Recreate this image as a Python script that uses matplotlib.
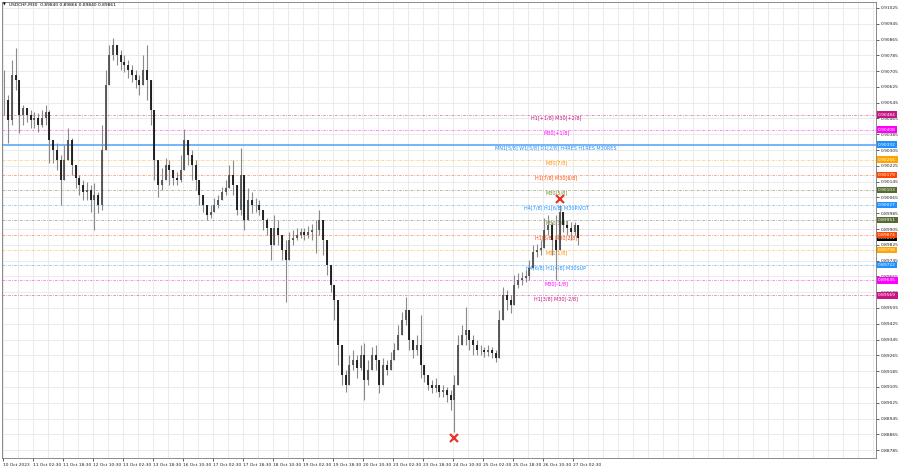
import numpy as np
import matplotlib
matplotlib.use("Agg")
import matplotlib.pyplot as plt
from matplotlib.collections import LineCollection

# ---------------- data ----------------
symbol_title = "USDCHF,M30  0.89840 0.89866 0.89840 0.89861"
current_price = 0.89861

closes = [
    0.90558, 0.90457, 0.90685, 0.90659, 0.90482, 0.90517, 0.90482, 0.90457, 0.90467, 0.90431,
    0.90467, 0.90497, 0.90355, 0.90305, 0.90254, 0.90152, 0.90254, 0.90355, 0.90228, 0.90163,
    0.90127, 0.90092, 0.90102, 0.90051, 0.90076, 0.90026, 0.90305, 0.90634, 0.90786, 0.90837,
    0.90786, 0.90751, 0.90735, 0.90710, 0.90685, 0.90659, 0.90634, 0.90710, 0.90659, 0.90507,
    0.90254, 0.90127, 0.90152, 0.90228, 0.90203, 0.90163, 0.90152, 0.90203, 0.90355, 0.90279,
    0.90228, 0.90152, 0.90076, 0.90026, 0.89975, 0.89990, 0.90026, 0.90051, 0.90092, 0.90112,
    0.90178, 0.90127, 0.90000, 0.90178, 0.89950, 0.90051, 0.90026, 0.90026, 0.90000, 0.89950,
    0.89909, 0.89823, 0.89909, 0.89874, 0.89798, 0.89747, 0.89848, 0.89858, 0.89874, 0.89889,
    0.89874, 0.89889, 0.89899, 0.89899, 0.89950, 0.89848, 0.89721, 0.89620, 0.89544, 0.89316,
    0.89164, 0.89113, 0.89215, 0.89240, 0.89199, 0.89265, 0.89139, 0.89189, 0.89265, 0.89240,
    0.89113, 0.89215, 0.89189, 0.89240, 0.89291, 0.89367, 0.89443, 0.89493, 0.89341, 0.89291,
    0.89316, 0.89215, 0.89164, 0.89113, 0.89098, 0.89113, 0.89078, 0.89088, 0.89062, 0.89037,
    0.89113, 0.89316, 0.89367, 0.89392, 0.89341, 0.89316, 0.89291, 0.89291, 0.89281, 0.89291,
    0.89275, 0.89250, 0.89443, 0.89569, 0.89544, 0.89519, 0.89620, 0.89645, 0.89656, 0.89666,
    0.89706, 0.89787, 0.89798, 0.89808, 0.89899, 0.89924, 0.89848, 0.89798, 0.89990, 0.89924,
    0.89909, 0.89889, 0.89924, 0.89861,
]

highs = [
    0.90710, 0.90583, 0.90761, 0.90822, 0.90659, 0.90533, 0.90517, 0.90507, 0.90497, 0.90492,
    0.90507, 0.90533, 0.90507, 0.90355, 0.90340, 0.90279, 0.90330, 0.90416, 0.90365, 0.90228,
    0.90178, 0.90152, 0.90142, 0.90127, 0.90137, 0.90092, 0.90431, 0.90710, 0.90837, 0.90872,
    0.90837, 0.90812, 0.90786, 0.90761, 0.90735, 0.90710, 0.90685, 0.90786, 0.90837, 0.90609,
    0.90431, 0.90203, 0.90213, 0.90264, 0.90254, 0.90203, 0.90193, 0.90279, 0.90411, 0.90355,
    0.90305, 0.90254, 0.90127, 0.90076, 0.90010, 0.90026, 0.90061, 0.90076, 0.90117, 0.90152,
    0.90228, 0.90254, 0.90102, 0.90315, 0.90026, 0.90112, 0.90092, 0.90061, 0.90051, 0.89990,
    0.89960, 0.89889, 0.89975, 0.89950, 0.89848, 0.89848, 0.89889, 0.89899, 0.89909, 0.89909,
    0.89909, 0.89919, 0.89929, 0.89950, 0.90000, 0.89899, 0.89798, 0.89706, 0.89620, 0.89443,
    0.89265, 0.89189, 0.89265, 0.89291, 0.89265, 0.89316, 0.89326, 0.89240, 0.89306, 0.89316,
    0.89215, 0.89250, 0.89240, 0.89281, 0.89326, 0.89417, 0.89483, 0.89559, 0.89417, 0.89341,
    0.89367, 0.89468, 0.89215, 0.89164, 0.89139, 0.89149, 0.89113, 0.89113, 0.89103, 0.89088,
    0.89164, 0.89367, 0.89417, 0.89509, 0.89392, 0.89367, 0.89341, 0.89316, 0.89306, 0.89316,
    0.89306, 0.89291, 0.89493, 0.89610, 0.89595, 0.89569, 0.89671, 0.89681, 0.89686, 0.89696,
    0.89747, 0.89823, 0.89828, 0.89848, 0.89960, 0.89975, 0.89940, 0.89975, 0.90026, 0.89975,
    0.89950, 0.89940, 0.89940, 0.89924,
]

lows = [
    0.90482, 0.90340, 0.90431, 0.90609, 0.90391, 0.90431, 0.90446, 0.90416, 0.90416, 0.90396,
    0.90421, 0.90431, 0.90239, 0.90239, 0.90203, 0.90026, 0.90193, 0.90279, 0.90178, 0.90112,
    0.90076, 0.90051, 0.90051, 0.89990, 0.89899, 0.89985, 0.90000, 0.90406, 0.90659, 0.90761,
    0.90735, 0.90710, 0.90700, 0.90670, 0.90649, 0.90619, 0.90583, 0.90634, 0.90558, 0.90431,
    0.90152, 0.90066, 0.90102, 0.90152, 0.90127, 0.90127, 0.90127, 0.90142, 0.90254, 0.90228,
    0.90152, 0.90102, 0.90026, 0.89990, 0.89950, 0.89960, 0.89990, 0.90010, 0.90051, 0.90076,
    0.90127, 0.90076, 0.89975, 0.89975, 0.89899, 0.90000, 0.89985, 0.89990, 0.89975, 0.89899,
    0.89874, 0.89747, 0.89848, 0.89823, 0.89747, 0.89534, 0.89798, 0.89823, 0.89848, 0.89858,
    0.89848, 0.89858, 0.89848, 0.89782, 0.89874, 0.89772, 0.89671, 0.89585, 0.89443, 0.89215,
    0.89113, 0.89078, 0.89164, 0.89189, 0.89149, 0.89189, 0.89037, 0.89113, 0.89215, 0.89189,
    0.89073, 0.89179, 0.89164, 0.89199, 0.89250, 0.89316, 0.89392, 0.89417, 0.89291, 0.89250,
    0.89265, 0.89149, 0.89128, 0.89088, 0.89073, 0.89078, 0.89052, 0.89052, 0.89027, 0.88986,
    0.88875, 0.89164, 0.89316, 0.89316, 0.89291, 0.89265, 0.89265, 0.89265, 0.89255, 0.89260,
    0.89250, 0.89230, 0.89341, 0.89529, 0.89493, 0.89478, 0.89544, 0.89605, 0.89620, 0.89635,
    0.89645, 0.89747, 0.89762, 0.89772, 0.89823, 0.89874, 0.89772, 0.89645, 0.89924, 0.89889,
    0.89874, 0.89848, 0.89874, 0.89823,
]

time_labels = [
    "10 Oct 2023", "11 Oct 02:30", "11 Oct 18:30", "12 Oct 10:30", "13 Oct 02:30",
    "13 Oct 18:30", "16 Oct 10:30", "17 Oct 02:30", "17 Oct 18:30", "18 Oct 10:30",
    "19 Oct 02:30", "19 Oct 18:30", "20 Oct 10:30", "23 Oct 02:30", "23 Oct 18:30",
    "24 Oct 10:30", "25 Oct 02:30", "25 Oct 18:30", "26 Oct 10:30", "27 Oct 02:30",
]

price_ticks = [
    0.91025, 0.90945, 0.90865, 0.90785, 0.90705, 0.90625, 0.90545, 0.90465, 0.90385,
    0.90305, 0.90225, 0.90145, 0.90065, 0.89985, 0.89905, 0.89825, 0.89745, 0.89665,
    0.89585, 0.89505, 0.89425, 0.89345, 0.89265, 0.89185, 0.89105, 0.89025, 0.88945,
    0.88865, 0.88785,
]

level_prices = [0.90484, 0.90408, 0.90332, 0.90256, 0.90179, 0.90103, 0.90027,
                0.89951, 0.89874, 0.89798, 0.89722, 0.89645, 0.89569]
level_names = [
    "H1[+1/8] M30[+2/8]", "M30[+1/8]", "MN1[5/8] W1[5/8] D1[2/8] H4RES H1RES M30RES",
    "M30[7/8]", "H1[7/8] M30[6/8]", "M30[5/8]", "H4[7/8] H1[6/8] M30PIVOT",
    "M30[3/8]", "H1[5/8] M30[2/8]", "M30[1/8]", "H4[6/8] H1[4/8] M30SUP",
    "M30[-1/8]", "H1[3/8] M30[-2/8]",
]
level_colors = ["#c71585", "#ff00ff", "#1e90ff", "#ffa500", "#ff4500", "#556b2f",
                "#1e90ff", "#556b2f", "#ff4500", "#ffa500", "#1e90ff", "#ff00ff", "#c71585"]
level_text_colors = ["#c71585", "#ff00ff", "#1e90ff", "#ff8c00", "#ff4500", "#6b8e23",
                     "#1e90ff", "#6b8e23", "#ff4500", "#ff8c00", "#1e90ff", "#ff00ff", "#c71585"]
level_solid = [False, False, True, False, False, False, False,
               False, False, False, False, False, False]

# ---------------- style / layout ----------------
BARS_PER_CANDLE = 4
BARS_PER_LABEL = 32
FS = 3.2
FS_LEVEL = 3.5

fig = plt.figure(figsize=(9, 4.68), dpi=100)
fig.patch.set_facecolor("white")
ax = fig.add_axes([2 / 900, 1 - 458 / 468, 874 / 900, 456 / 468])
ax.set_facecolor("white")
ax.set_xlim(-1, 931)
ax.set_ylim(0.88745, 0.91055)

# grid
for gx in range(0, 932, BARS_PER_LABEL // 2):
    ax.axvline(gx, color="#e8e8e8", lw=0.6, zorder=0)
for gy in price_ticks:
    ax.axhline(gy, color="#e8e8e8", lw=0.6, zorder=0)

# level lines and labels
label_x = 590
for p, name, col, tcol, solid in zip(level_prices, level_names, level_colors,
                                     level_text_colors, level_solid):
    if solid:
        ax.axhline(p, color="#4ea0f5", lw=1.1, zorder=1)
    else:
        ax.axhline(p, color=col, lw=0.6, alpha=0.55, dashes=(3, 1.5, 1, 1.5), zorder=1)
    ax.annotate(name, xy=(label_x, p), xytext=(0, -0.4), textcoords="offset points",
                ha="center", va="top", fontsize=FS_LEVEL, color=tcol, zorder=2)

# candles: gray wicks, dark bodies
c = np.array(closes)
h = np.array(highs)
l = np.array(lows)
o = np.concatenate([[c[0]], c[:-1]])
xc = np.arange(len(c)) * BARS_PER_CANDLE + BARS_PER_CANDLE / 2 - 0.5
hi = np.maximum.reduce([h, o, c])
lo = np.minimum.reduce([l, o, c])
wicks = [[(xc[i], lo[i]), (xc[i], hi[i])] for i in range(len(c))]
ax.add_collection(LineCollection(wicks, colors="#8a8a8a", linewidths=0.8, zorder=3))
bodies, bcols = [], []
for i in range(len(c)):
    bodies.append([(xc[i], o[i]), (xc[i], c[i])])
    bcols.append("#151515" if c[i] < o[i] else "#505050")
ax.add_collection(LineCollection(bodies, colors=bcols, linewidths=1.3, zorder=3.5))

# fractal crosses
low_idx = int(np.argmin(l))
recent = 30
high_idx = int(np.argmax(h[-recent:])) + len(h) - recent
ax.plot([xc[high_idx]], [h[high_idx] + 0.0003], marker="x", color="#e8352b",
        markersize=5.5, mew=1.6, zorder=4)
ax.plot([xc[low_idx]], [l[low_idx] - 0.0003], marker="x", color="#e8352b",
        markersize=5.5, mew=1.6, zorder=4)

# axes ticks
ax.yaxis.tick_right()
ax.set_yticks(price_ticks)
ax.set_yticklabels([f"{t:.5f}" for t in price_ticks])
ax.tick_params(axis="y", labelsize=FS, length=2, width=0.5, pad=1.5, colors="#222222")
xt = [k * BARS_PER_LABEL for k in range(len(time_labels))]
ax.set_xticks(xt)
ax.set_xticklabels(time_labels, ha="left")
ax.tick_params(axis="x", labelsize=FS, length=2, width=0.5, pad=1.5, colors="#222222")
for sp in ax.spines.values():
    sp.set_color("#777777")
    sp.set_linewidth(0.6)

# right-side price boxes
box_kw = dict(xycoords=("axes fraction", "data"), textcoords="offset points",
              ha="left", va="center", fontsize=FS, color="white", annotation_clip=False)
ax.annotate(f"{current_price:.5f}", xy=(1, current_price), xytext=(1.6, 0),
            bbox=dict(boxstyle="square,pad=0.3", fc="black", ec="none"), zorder=5, **box_kw)
for p, col in zip(level_prices, level_colors):
    ax.annotate(f"{p:.5f}", xy=(1, p), xytext=(1.6, 0),
                bbox=dict(boxstyle="square,pad=0.3", fc=col, ec="none"), zorder=6, **box_kw)

# title
fig.text(3 / 900, 1 - 4.5 / 468, "\u25BC", fontsize=2.6, va="center", ha="left", color="black")
fig.text(9 / 900, 1 - 4.5 / 468, symbol_title, fontsize=FS, va="center", ha="left",
         color="black")

fig.savefig("out.png", dpi=100, facecolor="white")
